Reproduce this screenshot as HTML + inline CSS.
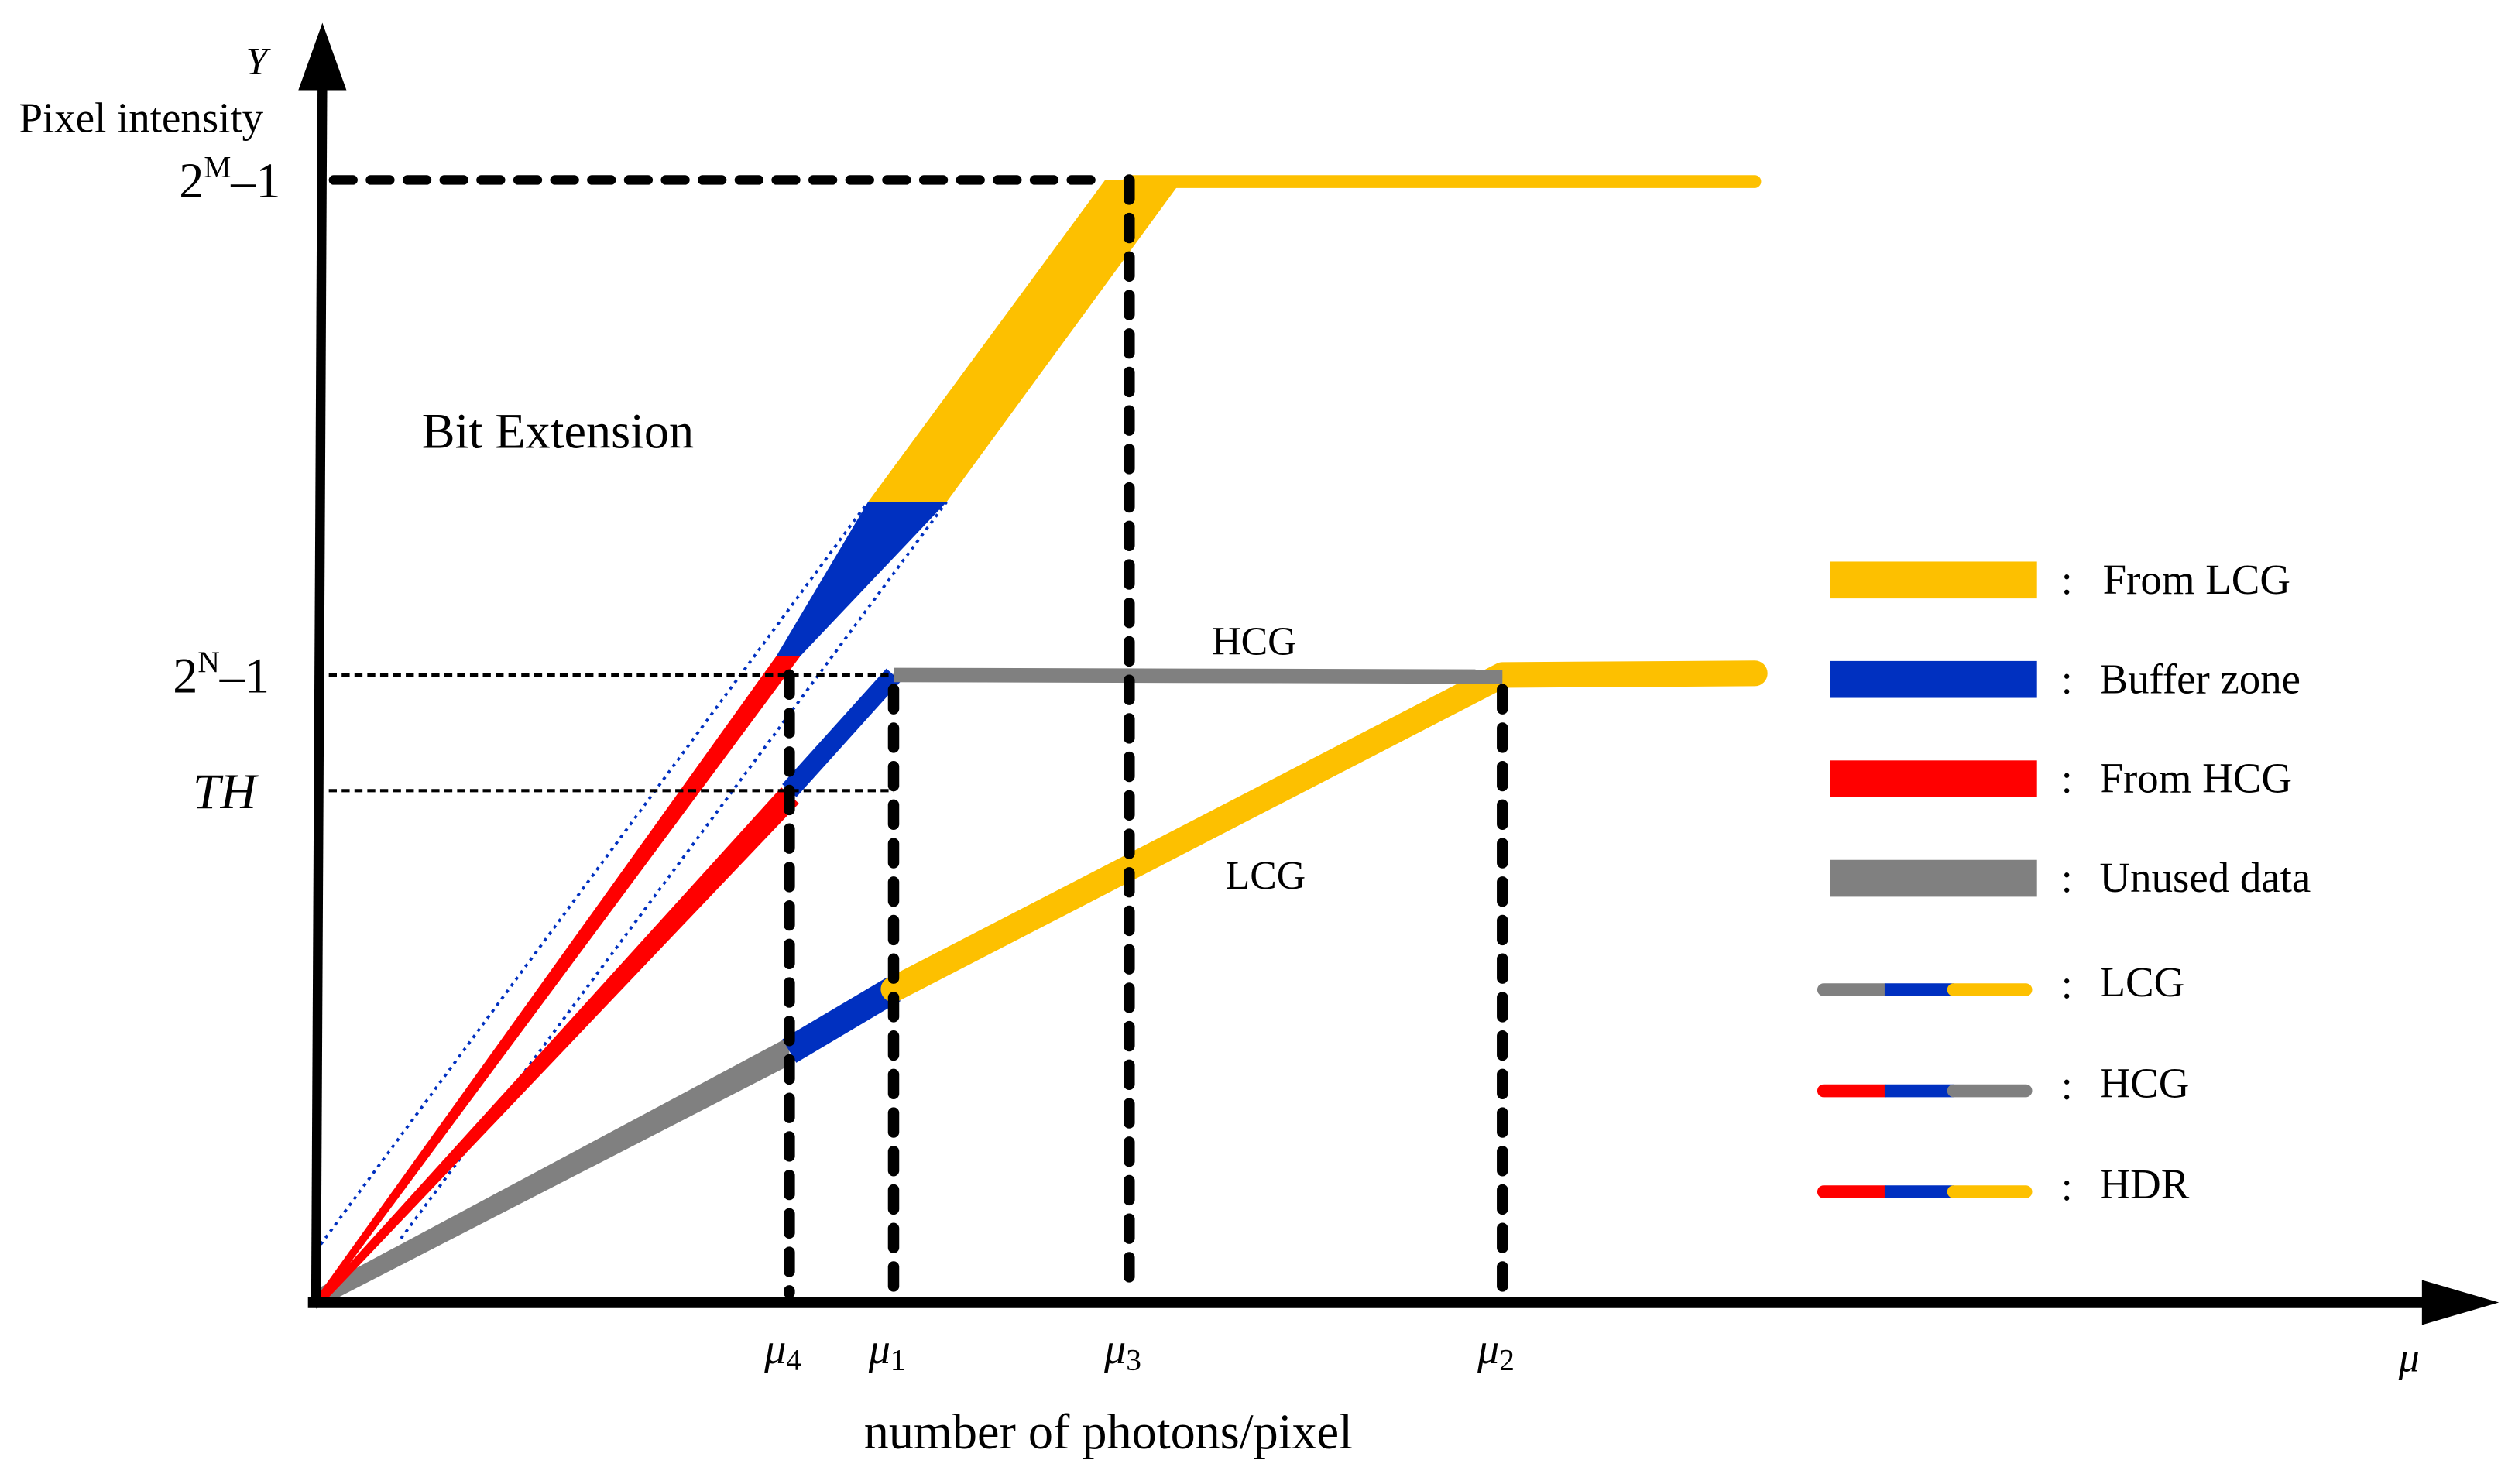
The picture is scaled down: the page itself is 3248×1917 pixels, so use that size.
<!DOCTYPE html>
<html><head><meta charset="utf-8"><style>
html,body{margin:0;padding:0;background:#fff}
svg{display:block}
text{font-family:"Liberation Serif",serif;fill:#000}
</style></head><body>
<svg id="chart" width="3248" height="1917" viewBox="0 0 1568 925" xmlns="http://www.w3.org/2000/svg">
<g id="marks"></g>
<g id="axes">
  <line x1="197" y1="812" x2="201" y2="50" stroke="#000" stroke-width="6"/>
  <polygon points="201,14 186,56 216,56" fill="#000"/>
  <line x1="192" y1="812" x2="1515" y2="812" stroke="#000" stroke-width="7"/>
  <polygon points="1558,812 1510,798 1510,826" fill="#000"/>
  <text x="160" y="46" font-size="24" font-style="italic" text-anchor="middle">Y</text>
  <text x="88" y="82" font-size="26.5" text-anchor="middle">Pixel intensity</text>
  <text x="1502" y="855" font-size="26" font-style="italic" text-anchor="middle">μ</text>
  <text x="691" y="903" font-size="31" text-anchor="middle">number of photons/pixel</text>
  <text x="263" y="279" font-size="31">Bit Extension</text>
  <text x="782" y="408" font-size="25" text-anchor="middle">HCG</text>
  <text x="789" y="554" font-size="25" text-anchor="middle">LCG</text>
</g>
<g id="legend"></g>
</svg>
<script>
// data (axis units)
const yLevelNames = ["2^M-1", "2^N-1", "TH"];
const yLevels = [100, 55.9, 45.6];
const muNames = ["μ4", "μ1", "μ3", "μ2"];
const muSubs = ["4", "1", "3", "2"];
const muValues = [2.27, 2.77, 3.9, 5.69];
const satEnd = 6.9;
const lcgValues = [22.4, 27.9];
const hdrTop = [71.3];
const legendLabels = ["From LCG", "Buffer zone", "From HCG", "Unused data"];
const legendColors = ["#FDC000", "#0030C0", "#FF0000", "#808080"];
const lineLegendLabels = ["LCG", "HCG", "HDR"];
const lineLegendColors = [["#808080","#0030C0","#FDC000"],["#FF0000","#0030C0","#808080"],["#FF0000","#0030C0","#FDC000"]];

const X0 = 197, XS = 130, Y0 = 812, YS = 7;
const x = v => X0 + v * XS;
const y = v => Y0 - v * YS;
const NS = "http://www.w3.org/2000/svg";
const marks = document.getElementById('marks');
const legend = document.getElementById('legend');
function mk(tag, attrs, parent) {
  const e = document.createElementNS(NS, tag);
  for (const k in attrs) e.setAttribute(k, attrs[k]);
  parent.appendChild(e); return e;
}
const [mu4, mu1, mu3, mu2] = muValues;
const [yM, yN, yTH] = yLevels;
const O = [x(0), y(0)];

let e;
e = mk('line', {x1: x(0), y1: y(4.6), x2: x(mu4) + 49, y2: y(hdrTop[0]), stroke: '#0030C0', 'stroke-width': 1.8, 'stroke-dasharray': '2 3'}, marks);


e = mk('line', {x1: x(0) + 53, y1: y(5.7), x2: x(mu4) + 98, y2: y(hdrTop[0]), stroke: '#0030C0', 'stroke-width': 1.8, 'stroke-dasharray': '2 3'}, marks);



// LCG curve
e = mk('polygon', {points: `${O[0]},${O[1]+4} ${O[0]},${O[1]-8} ${x(mu4)},${y(lcgValues[0])-9} ${x(mu4)},${y(lcgValues[0])+9}`, fill: '#808080'}, marks);


e = mk('line', {x1: x(mu4), y1: y(lcgValues[0]), x2: x(mu1), y2: y(lcgValues[1]), stroke: '#0030C0', 'stroke-width': 17}, marks);


e = mk('polyline', {points: `${x(mu1)},${y(lcgValues[1])} ${x(mu2)},${y(yN)} ${x(satEnd)},${y(yN)-1}`, stroke: '#FDC000', 'stroke-width': 16, fill: 'none', 'stroke-linecap': 'round', 'stroke-linejoin': 'round'}, marks);



// HCG curve
e = mk('polygon', {points: `${O[0]-2},${O[1]+1} ${O[0]+3},${O[1]+2} ${x(mu4)+6},${y(yTH)+8} ${x(mu4)-5},${y(yTH)-2}`, fill: '#FF0000'}, marks);


e = mk('line', {x1: x(mu4), y1: y(yTH), x2: x(mu1), y2: y(yN), stroke: '#0030C0', 'stroke-width': 12}, marks);


e = mk('line', {x1: x(mu1), y1: y(yN), x2: x(mu2), y2: y(yN)+1, stroke: '#808080', 'stroke-width': 9}, marks);



// HDR curve
e = mk('polygon', {points: `${O[0]-2},${O[1]} ${O[0]+3},${O[1]} ${x(mu4)+7},${y(yN+1.7)} ${x(mu4)-8},${y(yN+1.7)}`, fill: '#FF0000'}, marks);


e = mk('polygon', {points: `${x(mu4)-8},${y(yN+1.7)} ${x(mu4)+7},${y(yN+1.7)} ${x(mu4)+98},${y(hdrTop[0])} ${x(mu4)+49},${y(hdrTop[0])}`, fill: '#0030C0'}, marks);


e = mk('polygon', {points: `${x(mu4)+49},${y(hdrTop[0])} ${x(mu4)+98},${y(hdrTop[0])} ${x(mu3)+33},${y(yM)} ${x(mu3)-15},${y(yM)}`, fill: '#FDC000'}, marks);


e = mk('line', {x1: x(mu3), y1: y(yM)+1, x2: x(satEnd), y2: y(yM)+1, stroke: '#FDC000', 'stroke-width': 8, 'stroke-linecap': 'round'}, marks);



// horizontal reference lines
e = mk('line', {x1: 208, y1: y(yM), x2: x(mu3) - 18, y2: y(yM), stroke: '#000', 'stroke-width': 6, 'stroke-dasharray': '12 11', 'stroke-linecap': 'round'}, marks);


e = mk('line', {x1: 205, y1: y(yN), x2: x(mu1), y2: y(yN), stroke: '#000', 'stroke-width': 2, 'stroke-dasharray': '5 3'}, marks);


e = mk('line', {x1: 205, y1: y(yTH), x2: x(mu1), y2: y(yTH), stroke: '#000', 'stroke-width': 2, 'stroke-dasharray': '5 3'}, marks);



e = mk('text', {x: 175, y: y(yM) + 11, 'font-size': 31, 'text-anchor': 'end'}, marks);
e.innerHTML = '2<tspan font-size="19" dy="-13">M</tspan><tspan dy="13">–1</tspan>';


e = mk('text', {x: 168, y: y(yN) + 11, 'font-size': 31, 'text-anchor': 'end'}, marks);
e.innerHTML = '2<tspan font-size="19" dy="-13">N</tspan><tspan dy="13">–1</tspan>';


e = mk('text', {x: 140, y: y(yTH) + 11, 'font-size': 31, 'text-anchor': 'middle', 'font-style': 'italic'}, marks);
e.textContent = yLevelNames[2];



const vTops = [yN, yN - 1.3, yM, yN - 1.3];
muValues.forEach((m, i) => {
  const l = mk('line', {x1: x(m), y1: y(vTops[i]), x2: x(m), y2: 806, stroke: '#000', 'stroke-width': 7, 'stroke-dasharray': '12 12', 'stroke-linecap': 'round'}, marks);
  
  
  const t = mk('text', {x: x(m) - 4, y: 850, 'font-size': 27, 'text-anchor': 'middle', 'font-style': 'italic'}, marks);
  t.innerHTML = 'μ<tspan font-size="19" font-style="normal" dy="4">' + muSubs[i] + '</tspan>';
  
  
});

legendLabels.forEach((lab, i) => {
  const cy = 361 + i * 62;
  const r = mk('rect', {x: 1141, y: cy - 11, width: 129, height: 23, fill: legendColors[i]}, legend);
  
  
  const c = mk('text', {x: 1285, y: cy + 9, 'font-size': 26}, legend);
  c.textContent = ':';
  
  
  const t = mk('text', {x: i === 0 ? 1311 : 1309, y: cy + 9, 'font-size': 26.5}, legend);
  t.textContent = lab;
  
  
});
lineLegendLabels.forEach((lab, i) => {
  const cy = 617 + i * 63;
  const segs = [[1137, 1175], [1175, 1218], [1218, 1263]];
  segs.forEach((s, j) => {
    const l = mk('line', {x1: s[0], y1: cy, x2: s[1], y2: cy, stroke: lineLegendColors[i][j], 'stroke-width': 8, 'stroke-linecap': (j === 1 ? 'butt' : 'round')}, legend);
    
    
  });
  const c = mk('text', {x: 1285, y: cy + 5, 'font-size': 26}, legend);
  c.textContent = ':';
  
  
  const t = mk('text', {x: 1309, y: cy + 4, 'font-size': 26.5}, legend);
  t.textContent = lab;
  
  
});
</script>
</body></html>
